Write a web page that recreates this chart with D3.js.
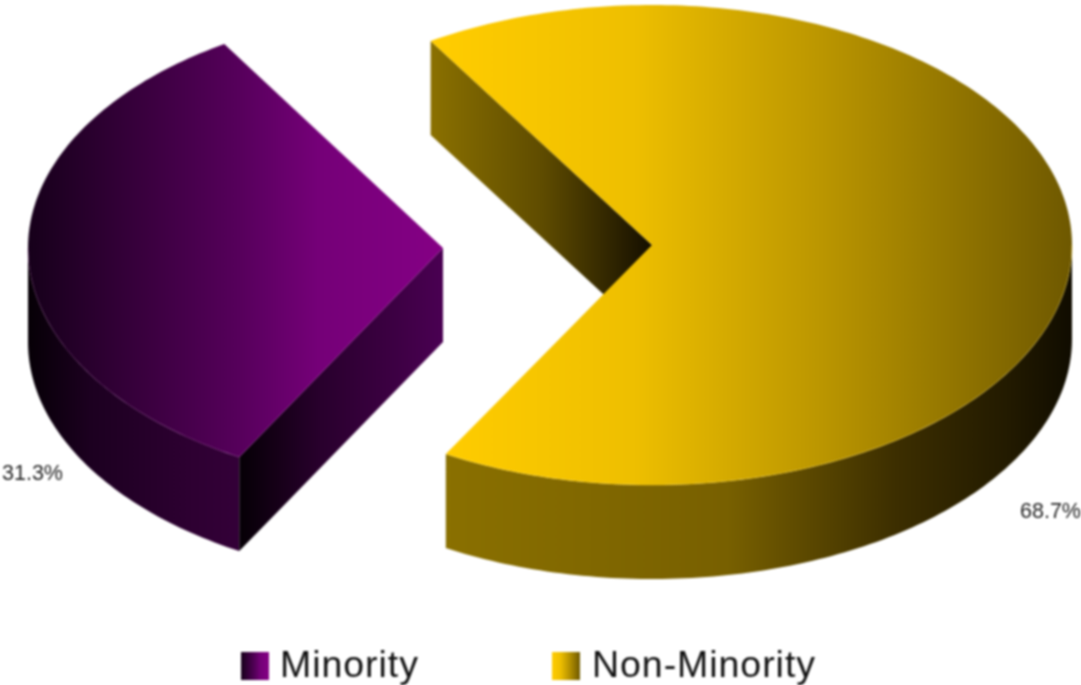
<!DOCTYPE html>
<html>
<head>
<meta charset="utf-8">
<script src="https://cdn.jsdelivr.net/npm/d3@7"></script>
<style>
html,body{margin:0;padding:0;background:#fff;overflow:hidden}
svg{display:block}
text{font-family:"Liberation Sans",Arial,sans-serif;fill:#111}
.soft{filter:blur(0.8px)}
.softer{filter:blur(0.9px)}
</style>
</head>
<body>
<svg id="c" width="1081" height="685"></svg>
<script>
const categories = ["Non-Minority", "Minority"];
const values = [68.7, 31.3];
const pctLabels = ["68.7%", "31.3%"];

const W = 1081, H = 685, depth = 94, ry = 240;
const geom = [
  {cx: 652, cy: 245, rx: 420, labelX: 1020, labelY: 518, swatchX: 552, textX: 592},
  {cx: 443, cy: 248, rx: 415, labelX: 2, labelY: 480, swatchX: 241, textX: 280}
];
const palette = [
  {top: [[0, "#ffcc00"], [0.3, "#eebf00"], [0.6, "#bb9600"], [1, "#6e5800"]],
   outer: [[0, "#8a7000"], [0.45, "#786000"], [0.72, "#3c2e00"], [0.9, "#221a00"], [1, "#100c00"]],
   inner: [[0, "#8a7000"], [0.5, "#5f4c00"], [1, "#140e00"]],
   edge: "#ffdb40", x0: 445, x1: 1072, ix0: 432, ix1: 652},
  {top: [[0, "#16001a"], [0.5, "#55005a"], [0.7, "#750078"], [1, "#850085"]],
   outer: [[0, "#060006"], [0.15, "#1c0020"], [0.4, "#2e0032"], [1, "#4e0054"]],
   inner: [[0, "#040004"], [0.4, "#28002c"], [1, "#4a0052"]],
   edge: "#941e94", x0: 28, x1: 443, ix0: 236, ix1: 443}
];

const svg = d3.select("#c");
const defs = svg.append("defs");
function grad(id, stops, x0, x1) {
  const g = defs.append("linearGradient").attr("id", id)
    .attr("gradientUnits", "userSpaceOnUse")
    .attr("x1", x0).attr("x2", x1).attr("y1", 0).attr("y2", 0);
  stops.forEach(s => g.append("stop").attr("offset", s[0]).attr("stop-color", s[1]));
}
palette.forEach((p, i) => {
  grad("top" + i, p.top, p.x0, p.x1);
  grad("outer" + i, p.outer, p.x0, p.x1);
  grad("inner" + i, p.inner, p.ix0, p.ix1);
});

// cumulative percentage -> angle on the projected ellipse (degrees, screen sense)
const angle = d3.scaleLinear().domain([0, values[0], 100]).range([-121.8, 119.4, 238.2]);
const rad = d => d * Math.PI / 180;
const line = d3.line();

function pt(g, a, dy) {
  return [g.cx + g.rx * Math.cos(rad(a)), g.cy + ry * Math.sin(rad(a)) + (dy || 0)];
}
function arcPts(g, a0, a1, dy) {
  const n = Math.max(2, Math.ceil(Math.abs(a1 - a0)));
  return d3.range(n + 1).map(i => pt(g, a0 + (a1 - a0) * i / n, dy));
}

let cum = 0;
const slices = values.map((v, i) => {
  const s = {i, a0: angle(cum), a1: angle(cum + v)};
  cum += v;
  return s;
});

const soft = svg.append("g").attr("class", "soft");

// Draw order: purple, then yellow
[1, 0].forEach(i => {
  const s = slices[i], g = geom[i], center = [g.cx, g.cy];
  const gs = soft.append("g").attr("class", "slice-" + i);

  if (i === 0) {
    const p = pt(g, s.a0);
    gs.append("path").attr("fill", "url(#inner0)")
      .attr("d", line([p, center, [g.cx, g.cy + depth], [p[0], p[1] + depth]]) + "Z");
    const front = arcPts(g, 0, s.a1);
    gs.append("path").attr("fill", "url(#outer0)")
      .attr("d", line(front.concat(arcPts(g, s.a1, 0, depth))) + "Z");
  } else {
    const front = arcPts(g, 180, s.a0);
    gs.append("path").attr("fill", "url(#outer1)")
      .attr("d", line(front.concat(arcPts(g, s.a0, 180, depth))) + "Z");
    const p = pt(g, s.a0);
    gs.append("path").attr("fill", "url(#inner1)")
      .attr("d", line([p, center, [g.cx, g.cy + depth], [p[0], p[1] + depth]]) + "Z");
  }
  // top surface
  gs.append("path").attr("fill", "url(#top" + i + ")")
    .attr("d", line([center].concat(arcPts(g, s.a0, s.a1))) + "Z");
  // faint highlight along the front rim
  const rim = i === 0 ? arcPts(g, s.a1, 0) : arcPts(g, 180, s.a0).concat([center]);
  gs.append("path").attr("fill", "none").attr("stroke", palette[i].edge)
    .attr("stroke-opacity", i === 0 ? 0.35 : 0.22).attr("stroke-width", 1)
    .attr("d", line(rim));
});

// percentage labels
const lab = svg.append("g").attr("class", "softer");
slices.forEach(s => {
  lab.append("text").attr("x", geom[s.i].labelX).attr("y", geom[s.i].labelY)
    .attr("font-size", 21.5).style("fill", "#222")
    .text(pctLabels[s.i]);
});

// legend
const leg = svg.append("g").attr("class", "soft");
[1, 0].forEach(i => {
  const g = geom[i];
  const sid = "sw" + i;
  grad(sid, palette[i].top, g.swatchX, g.swatchX + 28);
  leg.append("rect").attr("x", g.swatchX).attr("y", 652).attr("width", 28).attr("height", 28)
    .attr("fill", "url(#" + sid + ")");
  leg.append("text").attr("x", g.textX).attr("y", 676.5).attr("font-size", 37.5)
    .attr("letter-spacing", 0.95)
    .text(categories[i]);
});
</script>
</body>
</html>
